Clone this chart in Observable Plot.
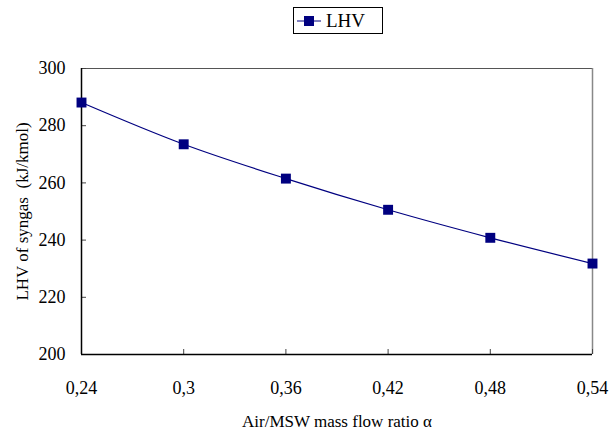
<!DOCTYPE html>
<html><head><meta charset="utf-8">
<script src="https://cdn.jsdelivr.net/npm/d3@7"></script>
<script src="https://cdn.jsdelivr.net/npm/@observablehq/plot@0.6"></script>
<style>
body{margin:0;background:#fff;font-family:"Liberation Serif","Times New Roman",serif;}
#wrap{position:relative;width:612px;height:434px;}
#legend{position:absolute;left:293px;top:7px;width:88px;height:25px;border:1px solid #000;background:#fff;display:flex;align-items:center;font-size:19px;}
#legend svg{margin-left:3px;margin-right:5px;}
</style></head>
<body><div id="wrap"><div id="legend"><svg width="24" height="12"><line x1="0" y1="6" x2="24" y2="6" stroke="#000080" stroke-width="1"/><rect x="7" y="1" width="10" height="10" fill="#000080"/></svg><span>LHV</span></div></div>
<script>
const ratio = [0.24, 0.30, 0.36, 0.42, 0.48, 0.54];
const lhv = [288.1, 273.5, 261.5, 250.6, 240.8, 231.8];
const xTicks = [0.24, 0.30, 0.36, 0.42, 0.48, 0.54];
const yTicks = [200, 220, 240, 260, 280, 300];
const data = ratio.map((r, i) => ({r, v: lhv[i]}));
const fmt = d => String(+d.toFixed(2)).replace(".", ",");
const F = "Liberation Serif";
const chart = Plot.plot({
  width: 612, height: 434,
  marginLeft: 81, marginRight: 20, marginTop: 68, marginBottom: 80,
  style: {background: "transparent"},
  x: {domain: [0.24, 0.54]},
  y: {domain: [200, 300]},
  marks: [
    Plot.ruleY([300], {stroke: "#555"}),
    Plot.ruleX([0.54], {stroke: "#888", strokeWidth: 1.5}),
    Plot.axisX(xTicks, {tickSize: -5, stroke: "#444", label: null, text: null}),
    Plot.axisX(xTicks, {tickSize: 0, tickPadding: 27, tickFormat: fmt, fontSize: 18, fontFamily: F, fontVariant: "normal", fill: "#000", label: null}),
    Plot.axisY(yTicks, {tickSize: -5, stroke: "#444", label: null, text: null}),
    Plot.axisY(yTicks, {tickSize: 0, tickPadding: 16, tickFormat: d => d, fontSize: 18, fontFamily: F, fontVariant: "normal", fill: "#000", label: null}),
    Plot.text(["Air/MSW mass flow ratio α"], {frameAnchor: "bottom", dy: 72, fontSize: 17, fontFamily: F, fill: "#000"}),
    Plot.text(["LHV of syngas  (kJ/kmol)"], {frameAnchor: "left", dx: -59, rotate: -90, textAnchor: "middle", fontSize: 17, fontFamily: F, fill: "#000"}),
    Plot.ruleX([0.24], {stroke: "#000", strokeWidth: 1.5}),
    Plot.ruleY([200], {stroke: "#000", strokeWidth: 1.5}),
    Plot.line(data, {x: "r", y: "v", stroke: "#000080", strokeWidth: 1.2, curve: "catmull-rom"}),
    Plot.dot(data, {x: "r", y: "v", symbol: "square", r: 5.6, fill: "#000080", stroke: "none"})
  ]
});
document.getElementById("wrap").appendChild(chart);
chart.style.position = "absolute"; chart.style.left = "0"; chart.style.top = "0";
document.getElementById("wrap").appendChild(document.getElementById("legend"));
</script></body></html>
